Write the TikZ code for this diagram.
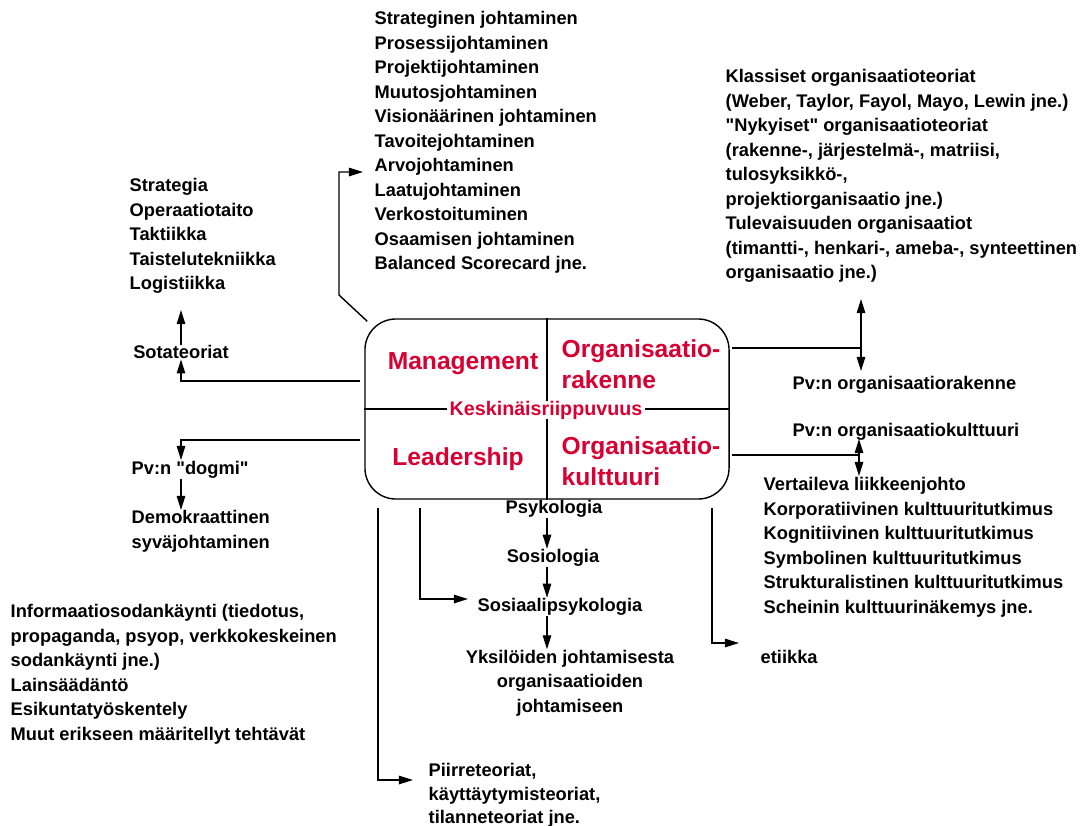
\documentclass[tikz,border=0pt]{standalone}
\usepackage{fontspec}
\setmainfont{Liberation Sans}[Ligatures=TeXOff]
\usetikzlibrary{positioning,arrows.meta}
\definecolor{keskred}{RGB}{215,0,50}

\begin{document}
\begin{tikzpicture}[x=0.025cm, y=-0.025cm, line width=1pt,
        >={Triangle[length=10pt,width=6pt]},
        txt/.style={font=\bfseries\fontsize{13}{17.4}\selectfont, align=left, inner sep=0pt},
        big/.style={font=\bfseries\fontsize{17.5}{22}\selectfont, text=keskred, align=left, inner sep=0pt}]
    \useasboundingbox (0,0) rectangle (1080,825);

    \node[draw, rounded corners=22pt, minimum width=9.1cm, minimum height=4.5cm] (box) at (547,409) {};
    \draw (box.north) -- (box.south);
    \draw (box.west) -- (box.east);
    \node[big] (mgmt) at (463,364) {Management};
    \node[big, anchor=west] (orgrak) at (561,364) {Organisaatio-\\rakenne};
    \node[big] (lead) at (458,459) {Leadership};
    \node[big, anchor=west] (orgkult) at (561,461) {Organisaatio-\\kulttuuri};
    \node[big, font=\bfseries\fontsize{14}{17}\selectfont, fill=white, inner xsep=2pt] (kesk) at (546,410) {Keskinäisriippuvuus};

    \node[txt, anchor=north west] (johtaminen) at (374,11) {Strateginen johtaminen\\
        Prosessijohtaminen\\ Projektijohtaminen\\ Muutosjohtaminen\\
        Visionäärinen johtaminen\\ Tavoitejohtaminen\\ Arvojohtaminen\\
        Laatujohtaminen\\ Verkostoituminen\\ Osaamisen johtaminen\\
        Balanced Scorecard jne.};
    \node[txt, anchor=north west] (sotataito) at (129,178) {Strategia\\ Operaatiotaito\\
        Taktiikka\\ Taistelutekniikka\\ Logistiikka};
    \node[txt] (sota) at (181,352) {Sotateoriat};
    \node[txt, anchor=west] (dogmi) at (131,470) {Pv:n "dogmi"};
    \node[txt, anchor=north west] (demo) at (131,510) {Demokraattinen\\ syväjohtaminen};
    \node[txt, anchor=north west] (info) at (10,604) {Informaatiosodankäynti (tiedotus,\\
        propaganda, psyop, verkkokeskeinen\\ sodankäynti jne.)\\ Lainsäädäntö\\
        Esikuntatyöskentely\\ Muut erikseen määritellyt tehtävät};
    \node[txt, font=\bfseries\fontsize{13}{16.4}\selectfont, anchor=north west] (piirre) at (428,763) {Piirreteoriat,\\
        käyttäytymisteoriat,\\ tilanneteoriat jne.};
    \node[txt] (psy) at (554,509) {Psykologia};
    \node[txt] (sosio) at (553,558) {Sosiologia};
    \node[txt] (sosps) at (560,607) {Sosiaalipsykologia};
    \node[txt, align=center] (yks) at (570,683) {Yksilöiden johtamisesta\\
        organisaatioiden\\ johtamiseen};
    \node[txt, anchor=west] (etiikka) at (760,657) {etiikka};
    \node[txt, anchor=north west] (orgteoriat) at (725,69) {Klassiset organisaatioteoriat\\
        (Weber, Taylor, Fayol, Mayo, Lewin jne.)\\ "Nykyiset" organisaatioteoriat\\
        (rakenne-, järjestelmä-, matriisi,\\ tulosyksikkö-,\\
        projektiorganisaatio jne.)\\ Tulevaisuuden organisaatiot\\
        (timantti-, henkari-, ameba-, synteettinen\\ organisaatio jne.)};
    \node[txt, anchor=west] (pvrak) at (792,385) {Pv:n organisaatiorakenne};
    \node[txt, anchor=west] (pvkult) at (792,432) {Pv:n organisaatiokulttuuri};
    \node[txt, anchor=north west] (vert) at (763,477) {Vertaileva liikkeenjohto\\
        Korporatiivinen kulttuuritutkimus\\ Kognitiivinen kulttuuritutkimus\\
        Symbolinen kulttuuritutkimus\\ Strukturalistinen kulttuuritutkimus\\
        Scheinin kulttuurinäkemys jne.};

    \coordinate (arvo) at (363,172);
    \coordinate (l1) at (360,381);
    \coordinate (sotatip) at (181,310);
    \coordinate (l2) at (360,440);
    \coordinate (dtip) at (181,460);
    \coordinate (b1) at (378,508);
    \coordinate (ptip) at (413,780);
    \coordinate (b2) at (420,508);
    \coordinate (stip) at (468,599);
    \coordinate (b3) at (712,508);
    \coordinate (etip) at (739,643);
    \coordinate (r1) at (732,348);
    \coordinate (rtop) at (861,299);
    \coordinate (rbot) at (861,371);
    \coordinate (r2) at (732,455);
    \coordinate (ktop) at (859,439);
    \coordinate (kbot) at (859,476);

    \draw[->] ([shift={(3,3)}]box.north west) -- (339,295) -- (339,172) -- (arvo);
    \draw[->] (l1) -| (sota.south);
    \draw[->] (sota.north) -- (sotatip);
    \draw[->] (l2) -| (dtip);
    \draw[->] (dogmi.south -| dtip) -- (demo.north -| dtip);
    \draw[->] (b1) |- (ptip);
    \draw[->] (b2) |- (stip);
    \draw[->] (psy.south -| box.south) -- (sosio.north -| box.south);
    \draw[->] (sosio.south -| box.south) -- (sosps.north -| box.south);
    \draw[->] (sosps.south -| box.south) -- (yks.north -| box.south);
    \draw[->] (b3) |- (etip);
    \draw (r1) -- (r1 -| rtop);
    \draw[<->] (rtop) -- (rbot);
    \draw (r2) -- (r2 -| ktop);
    \draw[<->] (ktop) -- (kbot);
\end{tikzpicture}
\end{document}
